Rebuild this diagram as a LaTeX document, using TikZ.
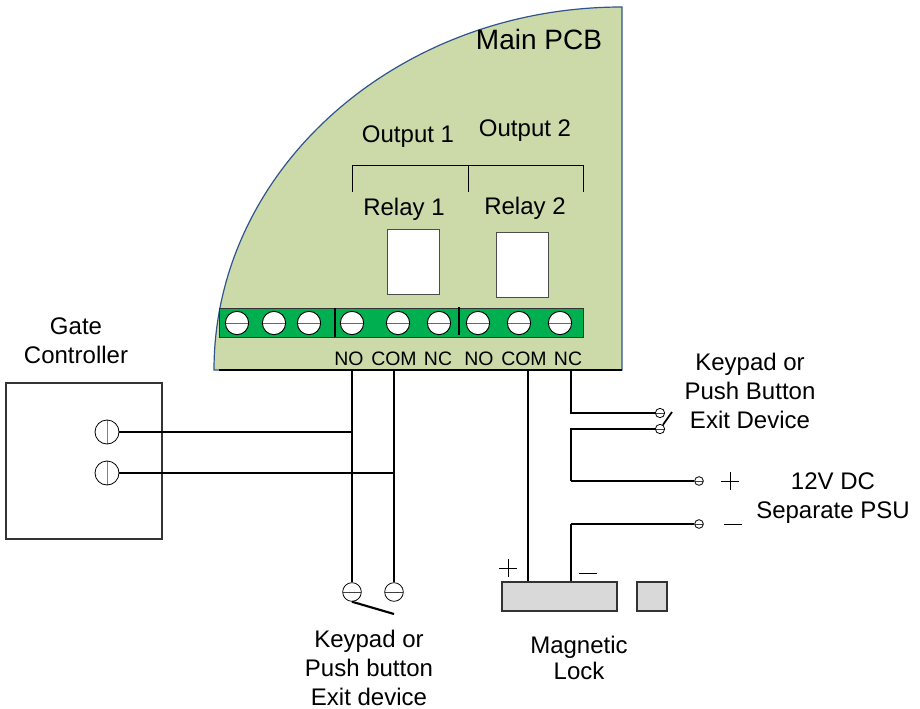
\documentclass[tikz,border=0pt]{standalone}
\usepackage{fontspec}
\setmainfont{Liberation Sans}
\definecolor{pcbgreen}{RGB}{204,218,170}
\definecolor{pcbedge}{RGB}{47,85,140}
\definecolor{stripgreen}{RGB}{0,176,80}
\definecolor{lockgray}{RGB}{217,217,217}
\tikzset{
  wire/.style={line width=1.6pt},
  lbl/.style={inner sep=0pt,align=center,font=\fontsize{18}{22}\selectfont},
  pinlbl/.style={inner sep=0pt,font=\fontsize{14.6}{17}\selectfont},
  sign/.style={line width=0.75pt},
  screwh/.style={circle,draw,fill=white,inner sep=0pt,minimum size=17.5pt,line width=0.7pt,
    path picture={\draw[gray!80!black,line width=0.7pt] (path picture bounding box.west) -- (path picture bounding box.east);}},
  termh/.style={circle,draw,fill=white,inner sep=0pt,minimum size=#1,line width=0.6pt,
    path picture={\draw[gray!50!black,line width=0.7pt] (path picture bounding box.west) -- (path picture bounding box.east);}},
  termv/.style={circle,draw,fill=white,inner sep=0pt,minimum size=18pt,line width=0.6pt,
    path picture={\draw[gray,line width=0.7pt] (path picture bounding box.north) -- (path picture bounding box.south);}},
  relaybox/.style={draw=black!70,fill=white,line width=0.75pt},
  lockbox/.style={draw=black!80,fill=lockgray,line width=0.9pt}
}
\begin{document}
\begin{tikzpicture}[x=0.75pt,y=-0.75pt]
  \useasboundingbox (0,0) rectangle (920,709);

  % PCB
  \filldraw[fill=pcbgreen,draw=pcbedge,line width=0.9pt] (214,370) arc[start angle=180,end angle=90,x radius=408,y radius=-363] -- (622,370) -- cycle;
  \draw[line width=1.3pt] (219,370) -- (622,370);

  % Output brackets
  \draw[line width=0.7pt] (352,192) -- (352,165) -- (583,165) -- (583,192);
  \draw[line width=0.7pt] (468,165) -- (468,192);

  % Relays
  \draw[relaybox] (387,230) rectangle (439,294);
  \draw[relaybox] (496,233) rectangle (548,297);

  % Terminal strip
  \filldraw[fill=stripgreen,draw=black!80,line width=0.75pt] (219.5,308) rectangle (583,337);
  \draw[line width=0.9pt] (335,308) -- (335,337);
  \draw[line width=1.3pt] (459,307) -- (459,335);
  \foreach \x [count=\i] in {237,274,309,352,398,439,478,519,560}
    \node[screwh] (screw\i) at (\x,323) {};

  % Labels on the board
  \node[inner sep=0pt,font=\fontsize{21}{25}\selectfont] (mainpcb) at (539,39) {Main PCB};
  \node[lbl] (outa) at (408,137) {Output 1};
  \node[lbl] (outb) at (525,131) {Output 2};
  \node[lbl] (rela) at (404,209) {Relay 1};
  \node[lbl] (relb) at (525,208) {Relay 2};
  \foreach \x/\n in {349/NO,394/COM,438/NC,479/NO,524/COM,568/NC}
    \node[pinlbl] (pin\x) at (\x,359) {\n};

  % Free ends at the board edge
  \coordinate (noa) at (352,371);
  \coordinate (coma) at (394,371);
  \coordinate (comb) at (528,371);
  \coordinate (ncb) at (571,371);

  % Gate controller
  \draw[line width=0.9pt,draw=black!80] (6,383) rectangle (162,539);
  \node[termv] (gatea) at (107,432) {};
  \node[termv] (gateb) at (107,473) {};
  \node[lbl] (gatelbl) at (76,341) {Gate\\Controller};

  % Keypad below
  \node[termh=14pt] (keya) at (352,592) {};
  \node[termh=14pt] (keyb) at (394,592) {};
  \coordinate (keyend) at (394,614);
  \draw[wire] (noa) -- (keya);
  \draw[wire] (coma) -- (keyb);
  \draw[wire] (gatea) -- (noa |- gatea);
  \draw[wire] (gateb) -- (coma |- gateb);
  \draw[wire] (keya.south) -- (keyend);
  \node[lbl] (keylbl) at (369,668) {Keypad or\\Push button\\Exit device};

  % Magnetic lock
  \node[lockbox,inner sep=0pt,minimum width=86.25pt,minimum height=21.75pt] (lock) at (559.5,596.5) {};
  \node[lockbox,inner sep=0pt,minimum width=22.5pt,minimum height=21.75pt] (plate) at (652,596.5) {};
  \draw[wire] (comb) -- (comb |- lock.north);
  \draw[wire] (ncb |- 0,524) -- (ncb |- lock.north);
  \draw[sign] (499,568) -- (517,568) (508,559) -- (508,577);
  \draw[sign] (579,573) -- (597,573);
  \node[lbl] (locklbl) at (579,658) {Magnetic\\[-2.5pt]Lock};

  % Exit device on the right
  \node[termh=7pt] (exa) at (660,413) {};
  \node[termh=7pt] (exb) at (660,429) {};
  \coordinate (exend) at (672,412);
  \draw[wire] (ncb) |- (exa);
  \draw[wire] (exb) -| (571,481);
  \draw[wire,line width=1.3pt] (exb) -- (exend);
  \node[lbl] (exlbl) at (750,391) {Keypad or\\Push Button\\Exit Device};

  % Supply
  \node[termh=6.5pt] (psup) at (699,481) {};
  \node[termh=6.5pt] (psum) at (699,524) {};
  \draw[wire] (571,481) -- (psup);
  \draw[wire] (psum) -- (ncb |- psum);
  \draw[sign] (721,481) -- (739,481) (730,472) -- (730,490);
  \draw[sign] (724,524) -- (742,524);
  \node[lbl] (psulbl) at (833,498) {12V DC\\Separate PSU};
\end{tikzpicture}
\end{document}
